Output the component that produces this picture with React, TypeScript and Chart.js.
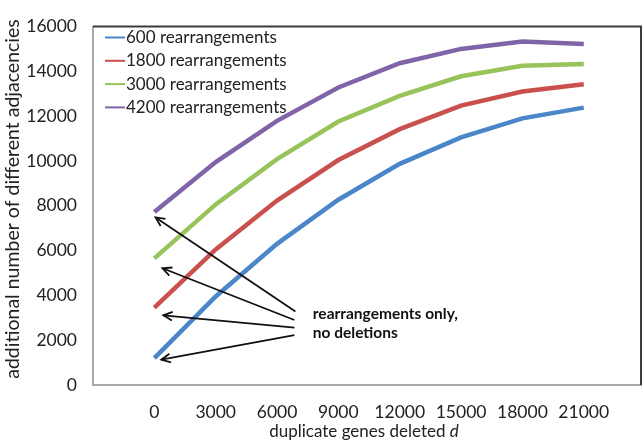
import React, { useEffect, useRef } from "react";
import { Chart, registerables } from "chart.js";

Chart.register(...registerables);

const deleted = [0, 3000, 6000, 9000, 12000, 15000, 18000, 21000];
const r600 = [1200, 3950, 6300, 8270, 9870, 11050, 11900, 12380];
const r1800 = [3450, 6050, 8230, 10040, 11420, 12470, 13100, 13420];
const r3000 = [5650, 8060, 10080, 11760, 12900, 13780, 14250, 14330];
const r4200 = [7720, 9950, 11790, 13280, 14360, 15000, 15330, 15220];
const seriesLabels = ["600 rearrangements", "1800 rearrangements", "3000 rearrangements", "4200 rearrangements"];
const seriesColors = ["#4a86c8", "#c9504d", "#98c35a", "#8064a8"];
const yTicks = [0, 2000, 4000, 6000, 8000, 10000, 12000, 14000, 16000];
const annotationLines = ["rearrangements only,", "no deletions"];
const arrowStarts = [
  [6900, 3280],
  [6850, 2900],
  [6850, 2560],
  [6850, 2230],
];
const arrowTips = [
  [60, 7480],
  [400, 5210],
  [440, 3110],
  [340, 1130],
];
const xTitle = "duplicate genes deleted ";
const xTitleItalic = "d";
const yTitle = "additional number of different adjacencies";

const FONT = "Lato, 'Open Sans', sans-serif";

const overlay = {
  id: "overlay",
  afterDraw(chart: any) {
    const ctx = chart.ctx;
    const { left, right, top, bottom } = chart.chartArea;
    const xs = chart.scales.x;
    const ys = chart.scales.y;
    ctx.save();
    // plot box top/right borders
    ctx.strokeStyle = "#3a3a3a";
    ctx.lineWidth = 2;
    ctx.beginPath();
    ctx.moveTo(left, top);
    ctx.lineTo(right, top);
    ctx.lineTo(right, bottom);
    ctx.stroke();

    // legend
    ctx.font = "17px " + FONT;
    ctx.textBaseline = "middle";
    ctx.textAlign = "left";
    chart.data.datasets.forEach((ds: any, i: number) => {
      const y = top + 11 + i * 23.3;
      ctx.strokeStyle = ds.borderColor;
      ctx.lineWidth = 2;
      ctx.beginPath();
      ctx.moveTo(left + 12, y);
      ctx.lineTo(left + 32, y);
      ctx.stroke();
      ctx.fillStyle = "#222";
      ctx.fillText(ds.label, left + 33, y);
    });

    // arrows
    ctx.strokeStyle = "#111";
    ctx.fillStyle = "#111";
    ctx.lineWidth = 1.8;
    arrowStarts.forEach((s, i) => {
      const t = arrowTips[i];
      const x1 = xs.getPixelForValue(s[0]);
      const y1 = ys.getPixelForValue(s[1]);
      const x2 = xs.getPixelForValue(t[0]);
      const y2 = ys.getPixelForValue(t[1]);
      ctx.beginPath();
      ctx.moveTo(x1, y1);
      ctx.lineTo(x2, y2);
      ctx.stroke();
      const ang = Math.atan2(y2 - y1, x2 - x1);
      const len = 10;
      ctx.beginPath();
      ctx.moveTo(x2 - len * Math.cos(ang - 0.45), y2 - len * Math.sin(ang - 0.45));
      ctx.lineTo(x2, y2);
      ctx.lineTo(x2 - len * Math.cos(ang + 0.45), y2 - len * Math.sin(ang + 0.45));
      ctx.stroke();
    });

    // annotation text
    ctx.font = "bold 15.5px " + FONT;
    ctx.fillStyle = "#111";
    ctx.textAlign = "left";
    const tx = xs.getPixelForValue(7750);
    annotationLines.forEach((line, i) => {
      ctx.fillText(line, tx, ys.getPixelForValue(3150) + i * 19);
    });

    // x title
    ctx.font = "17px " + FONT;
    ctx.fillStyle = "#222";
    const w1 = ctx.measureText(xTitle).width;
    ctx.font = "italic 17px " + FONT;
    const w2 = ctx.measureText(xTitleItalic).width;
    const cx = (left + right) / 2 - 3;
    const startX = cx - (w1 + w2) / 2;
    const ty = 432;
    ctx.font = "17px " + FONT;
    ctx.fillText(xTitle, startX, ty);
    ctx.font = "italic 17px " + FONT;
    ctx.fillText(xTitleItalic, startX + w1, ty);

    // y title
    ctx.font = "19.5px " + FONT;
    ctx.translate(13, 199);
    ctx.rotate(-Math.PI / 2);
    ctx.textAlign = "center";
    ctx.fillText(yTitle, 0, 0);
    ctx.restore();
  },
};

export default function App() {
  const ref = useRef<HTMLCanvasElement | null>(null);
  useEffect(() => {
    document.body.style.margin = "0";
    const seriesData = [r600, r1800, r3000, r4200];
    const chart = new Chart(ref.current as HTMLCanvasElement, {
      type: "line",
      data: {
        datasets: seriesData.map((vals, i) => ({
          label: seriesLabels[i],
          data: deleted.map((x, j) => ({ x, y: vals[j] })),
          borderColor: seriesColors[i],
          backgroundColor: seriesColors[i],
          borderWidth: 4.5,
          pointRadius: 0,
          tension: 0,
        })),
      },
      options: {
        responsive: false,
        animation: false,
        layout: { padding: { top: 4, right: 3, left: 0, bottom: 0 } },
        plugins: { legend: { display: false }, tooltip: { enabled: false } },
        scales: {
          x: {
            type: "linear",
            min: -3000,
            max: 23800,
            afterBuildTicks: (scale: any) => {
              scale.ticks = deleted.map((v) => ({ value: v }));
            },
            ticks: {
              font: { family: FONT, size: 17.5 },
              color: "#222",
              padding: 17,
              maxRotation: 0,
              callback: (v: any) => String(v),
            },
            grid: { display: false, drawTicks: false },
            border: { display: true, color: "#a8a8a8", width: 2 },
            afterFit: (scale: any) => {
              scale.height = 60;
            },
          },
          y: {
            type: "linear",
            min: 0,
            max: 16000,
            afterBuildTicks: (scale: any) => {
              scale.ticks = yTicks.map((v) => ({ value: v }));
            },
            ticks: {
              font: { family: FONT, size: 17.5 },
              color: "#222",
              padding: 16,
              callback: (v: any) => String(v),
            },
            grid: { display: false, drawTicks: false },
            border: { display: true, color: "#a8a8a8", width: 2 },
            afterFit: (scale: any) => {
              scale.width = 93;
            },
          },
        },
      },
      plugins: [overlay],
    } as any);
    return () => chart.destroy();
  }, []);
  return (
    <div style={{ width: 644, height: 445 }}>
      <canvas ref={ref} width={644} height={445} style={{ display: "block" }} />
    </div>
  );
}
